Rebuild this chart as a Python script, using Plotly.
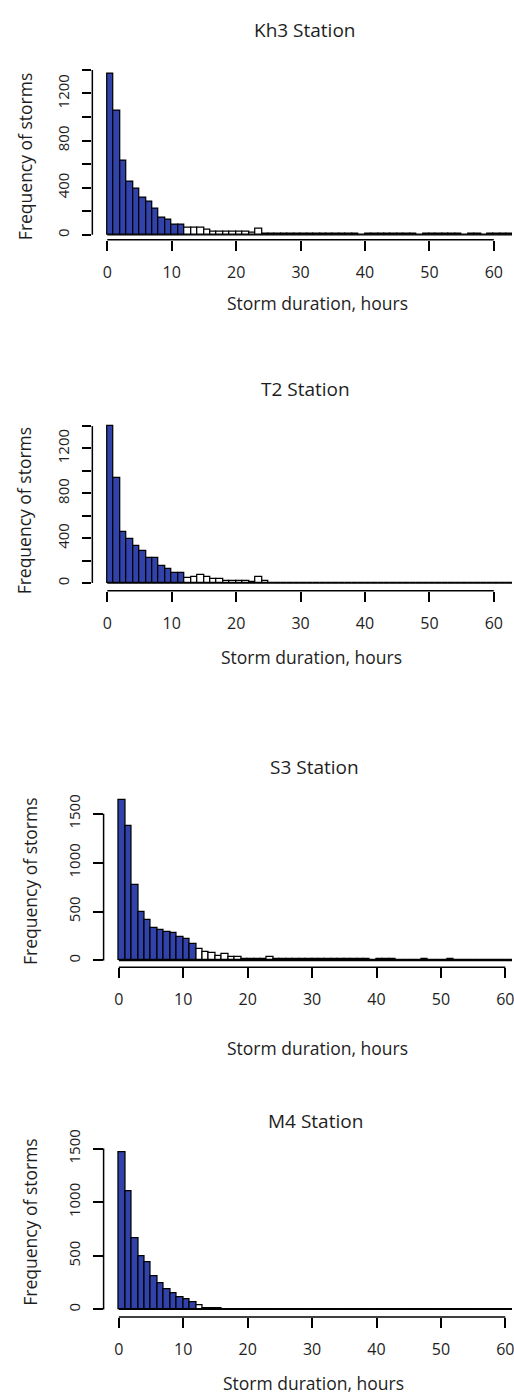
import plotly.graph_objects as go

W, H = 514, 1395

# ---------------- data ----------------
station_names = ["Kh3 Station", "T2 Station", "S3 Station", "M4 Station"]
bin_starts = list(range(63))          # 1-hour bins: [0,1), [1,2), ... [62,63)
BIN_WIDTH = 1
BLUE_LIMIT = 12                       # bins below this duration are shaded blue

kh3_counts = [1365, 1055, 625, 450, 395, 315, 282, 220, 148, 130, 82, 82,
              58, 58, 58, 42, 30, 28, 28, 28, 28, 28, 15, 48, 12,
              10, 10, 12, 10, 10, 10, 10, 10, 10, 10, 10, 10, 10, 10,
              0,
              10, 10, 10, 10, 10, 10, 10, 10,
              0,
              10, 10, 10, 10, 10, 10,
              0,
              10, 10,
              0,
              10, 12, 12, 10]

t2_counts = [1395, 940, 452, 390, 331, 284, 227, 227, 150, 124, 92, 92,
             50, 55, 70, 52, 37, 35, 18, 15, 15, 15, 8, 55, 15] + [0] * 38

s3_counts = [1643, 1371, 770, 497, 415, 335, 308, 292, 280, 241, 214, 163,
             112, 85, 71, 44, 61, 37, 37, 18, 18, 17, 17, 37,
             10, 10, 10, 10, 10, 10, 10, 10, 10, 10, 10, 10, 10, 10, 10,
             0,
             10, 10, 10,
             0, 0, 0, 0,
             15,
             0, 0, 0,
             15] + [0] * 11

m4_counts = [1466, 1097, 660, 492, 436, 312, 241, 184, 151, 114, 93, 62,
             38, 15, 15, 15] + [0] * 47

all_counts = [kh3_counts, t2_counts, s3_counts, m4_counts]

x_tick_vals = [0, 10, 20, 30, 40, 50, 60]
y_ticks_small = [0, 200, 400, 600, 800, 1000, 1200, 1400]
y_labels_small = ["0", "", "400", "", "800", "", "1200", ""]
y_ticks_large = [0, 500, 1000, 1500]
y_labels_large = ["0", "500", "1000", "1500"]
y_tick_sets = [(y_ticks_small, y_labels_small), (y_ticks_small, y_labels_small),
               (y_ticks_large, y_labels_large), (y_ticks_large, y_labels_large)]

x_title = "Storm duration, hours"
y_title = "Frequency of storms"

# ---------------- layout geometry (pixels) ----------------
# x0: pixel of duration 0, sx: px per hour, y0: pixel of count 0, sy: px per count
panels = [
    dict(x0=107.7, sx=6.467, y0=229.0, sy=0.1184, left=92.7, bottom=234.0, top=50,
         title=(306, 23), xt=(319, 297), yt=(25, 150)),
    dict(x0=107.7, sx=6.467, y0=579.0, sy=0.11286, left=92.7, bottom=586.7, top=405,
         title=(307, 384), xt=(313, 653), yt=(25, 506)),
    dict(x0=119.3, sx=6.467, y0=958.3, sy=0.0984, left=104.0, bottom=965.0, top=785,
         title=(316, 764), xt=(319, 1046), yt=(29.5, 879)),
    dict(x0=119.3, sx=6.467, y0=1309.0, sy=0.1078, left=104.0, bottom=1316.7, top=1135,
         title=(316.7, 1120), xt=(315, 1383), yt=(30, 1221)),
]

BLUE = "#3143AA"
TEXT = "#1e1e1e"
FONT = "Open Sans"

fig = go.Figure()
annotations = []
shapes = []

def py(p):
    return 1 - p / H

def px(p):
    return p / W

for i, (name, counts, pn, (yt_vals, yt_text)) in enumerate(
        zip(station_names, all_counts, panels, y_tick_sets), start=1):
    xa = "x" if i == 1 else f"x{i}"
    ya = "y" if i == 1 else f"y{i}"
    centers = [b + BIN_WIDTH / 2 for b in bin_starts]
    colors = [BLUE if b < BLUE_LIMIT else "white" for b in bin_starts]
    # zero-count bins drawn as a baseline (as R's hist does)
    fig.add_trace(go.Scatter(
        x=[bin_starts[0], bin_starts[-1] + BIN_WIDTH], y=[0, 0], mode="lines",
        line=dict(color="black", width=1.3), xaxis=xa, yaxis=ya,
        showlegend=False, hoverinfo="skip"))
    fig.add_trace(go.Bar(
        x=centers, y=counts, width=BIN_WIDTH,
        marker=dict(color=colors, line=dict(color="black", width=1.25)),
        xaxis=xa, yaxis=ya, showlegend=False))

    xr = [(pn["left"] - pn["x0"]) / pn["sx"], (W - pn["x0"]) / pn["sx"]]
    yr = [-(pn["bottom"] - pn["y0"]) / pn["sy"], (pn["y0"] - pn["top"]) / pn["sy"]]
    xkey = "xaxis" if i == 1 else f"xaxis{i}"
    ykey = "yaxis" if i == 1 else f"yaxis{i}"
    fig.update_layout(**{
        xkey: dict(domain=[px(pn["left"]), 1.0], range=xr, anchor=ya,
                   tickvals=x_tick_vals, ticks="outside", ticklen=10, tickwidth=1.5,
                   tickcolor="black", showline=False, showgrid=False, zeroline=False,
                   tickfont=dict(family=FONT, size=16, color=TEXT),
                   ticklabelstandoff=8, ticklabeloverflow="allow", fixedrange=True),
        ykey: dict(domain=[py(pn["bottom"]), py(pn["top"])], range=yr, anchor=xa,
                   tickvals=yt_vals, ticktext=yt_text, ticks="outside", ticklen=9.5,
                   tickwidth=1.5, tickcolor="black", tickangle=-90,
                   showline=False, showgrid=False, zeroline=False,
                   tickfont=dict(family=FONT, size=15, color=TEXT),
                   ticklabelstandoff=7, ticklabeloverflow="allow", fixedrange=True),
    })
    # axis lines spanning first to last tick, like R's axis()
    shapes.append(dict(type="line", xref=xa, yref=f"{ya} domain",
                       x0=x_tick_vals[0], x1=x_tick_vals[-1], y0=0, y1=0,
                       line=dict(color="black", width=1.5)))
    shapes.append(dict(type="line", xref=f"{xa} domain", yref=ya,
                       x0=0, x1=0, y0=yt_vals[0], y1=yt_vals[-1],
                       line=dict(color="black", width=1.5)))
    annotations.append(dict(text=name, x=px(pn["title"][0]), y=py(pn["title"][1]),
                            xref="paper", yref="paper", showarrow=False,
                            xanchor="center", yanchor="middle",
                            font=dict(family=FONT, size=19, color=TEXT)))
    annotations.append(dict(text=x_title, x=px(pn["xt"][0]), y=py(pn["xt"][1]),
                            xref="paper", yref="paper", showarrow=False,
                            xanchor="center", yanchor="middle",
                            font=dict(family=FONT, size=17.5, color=TEXT)))
    annotations.append(dict(text=y_title, x=px(pn["yt"][0]), y=py(pn["yt"][1]),
                            xref="paper", yref="paper", showarrow=False, textangle=-90,
                            xanchor="center", yanchor="middle",
                            font=dict(family=FONT, size=17.5, color=TEXT)))

fig.update_layout(width=W, height=H, margin=dict(l=0, r=0, t=0, b=0),
                  paper_bgcolor="white", plot_bgcolor="white",
                  bargap=0, showlegend=False,
                  annotations=annotations, shapes=shapes)

fig.write_html("out.html", config={"displayModeBar": False},
               post_script="document.body.style.margin='0';"
                           "document.body.style.overflow='hidden';")
